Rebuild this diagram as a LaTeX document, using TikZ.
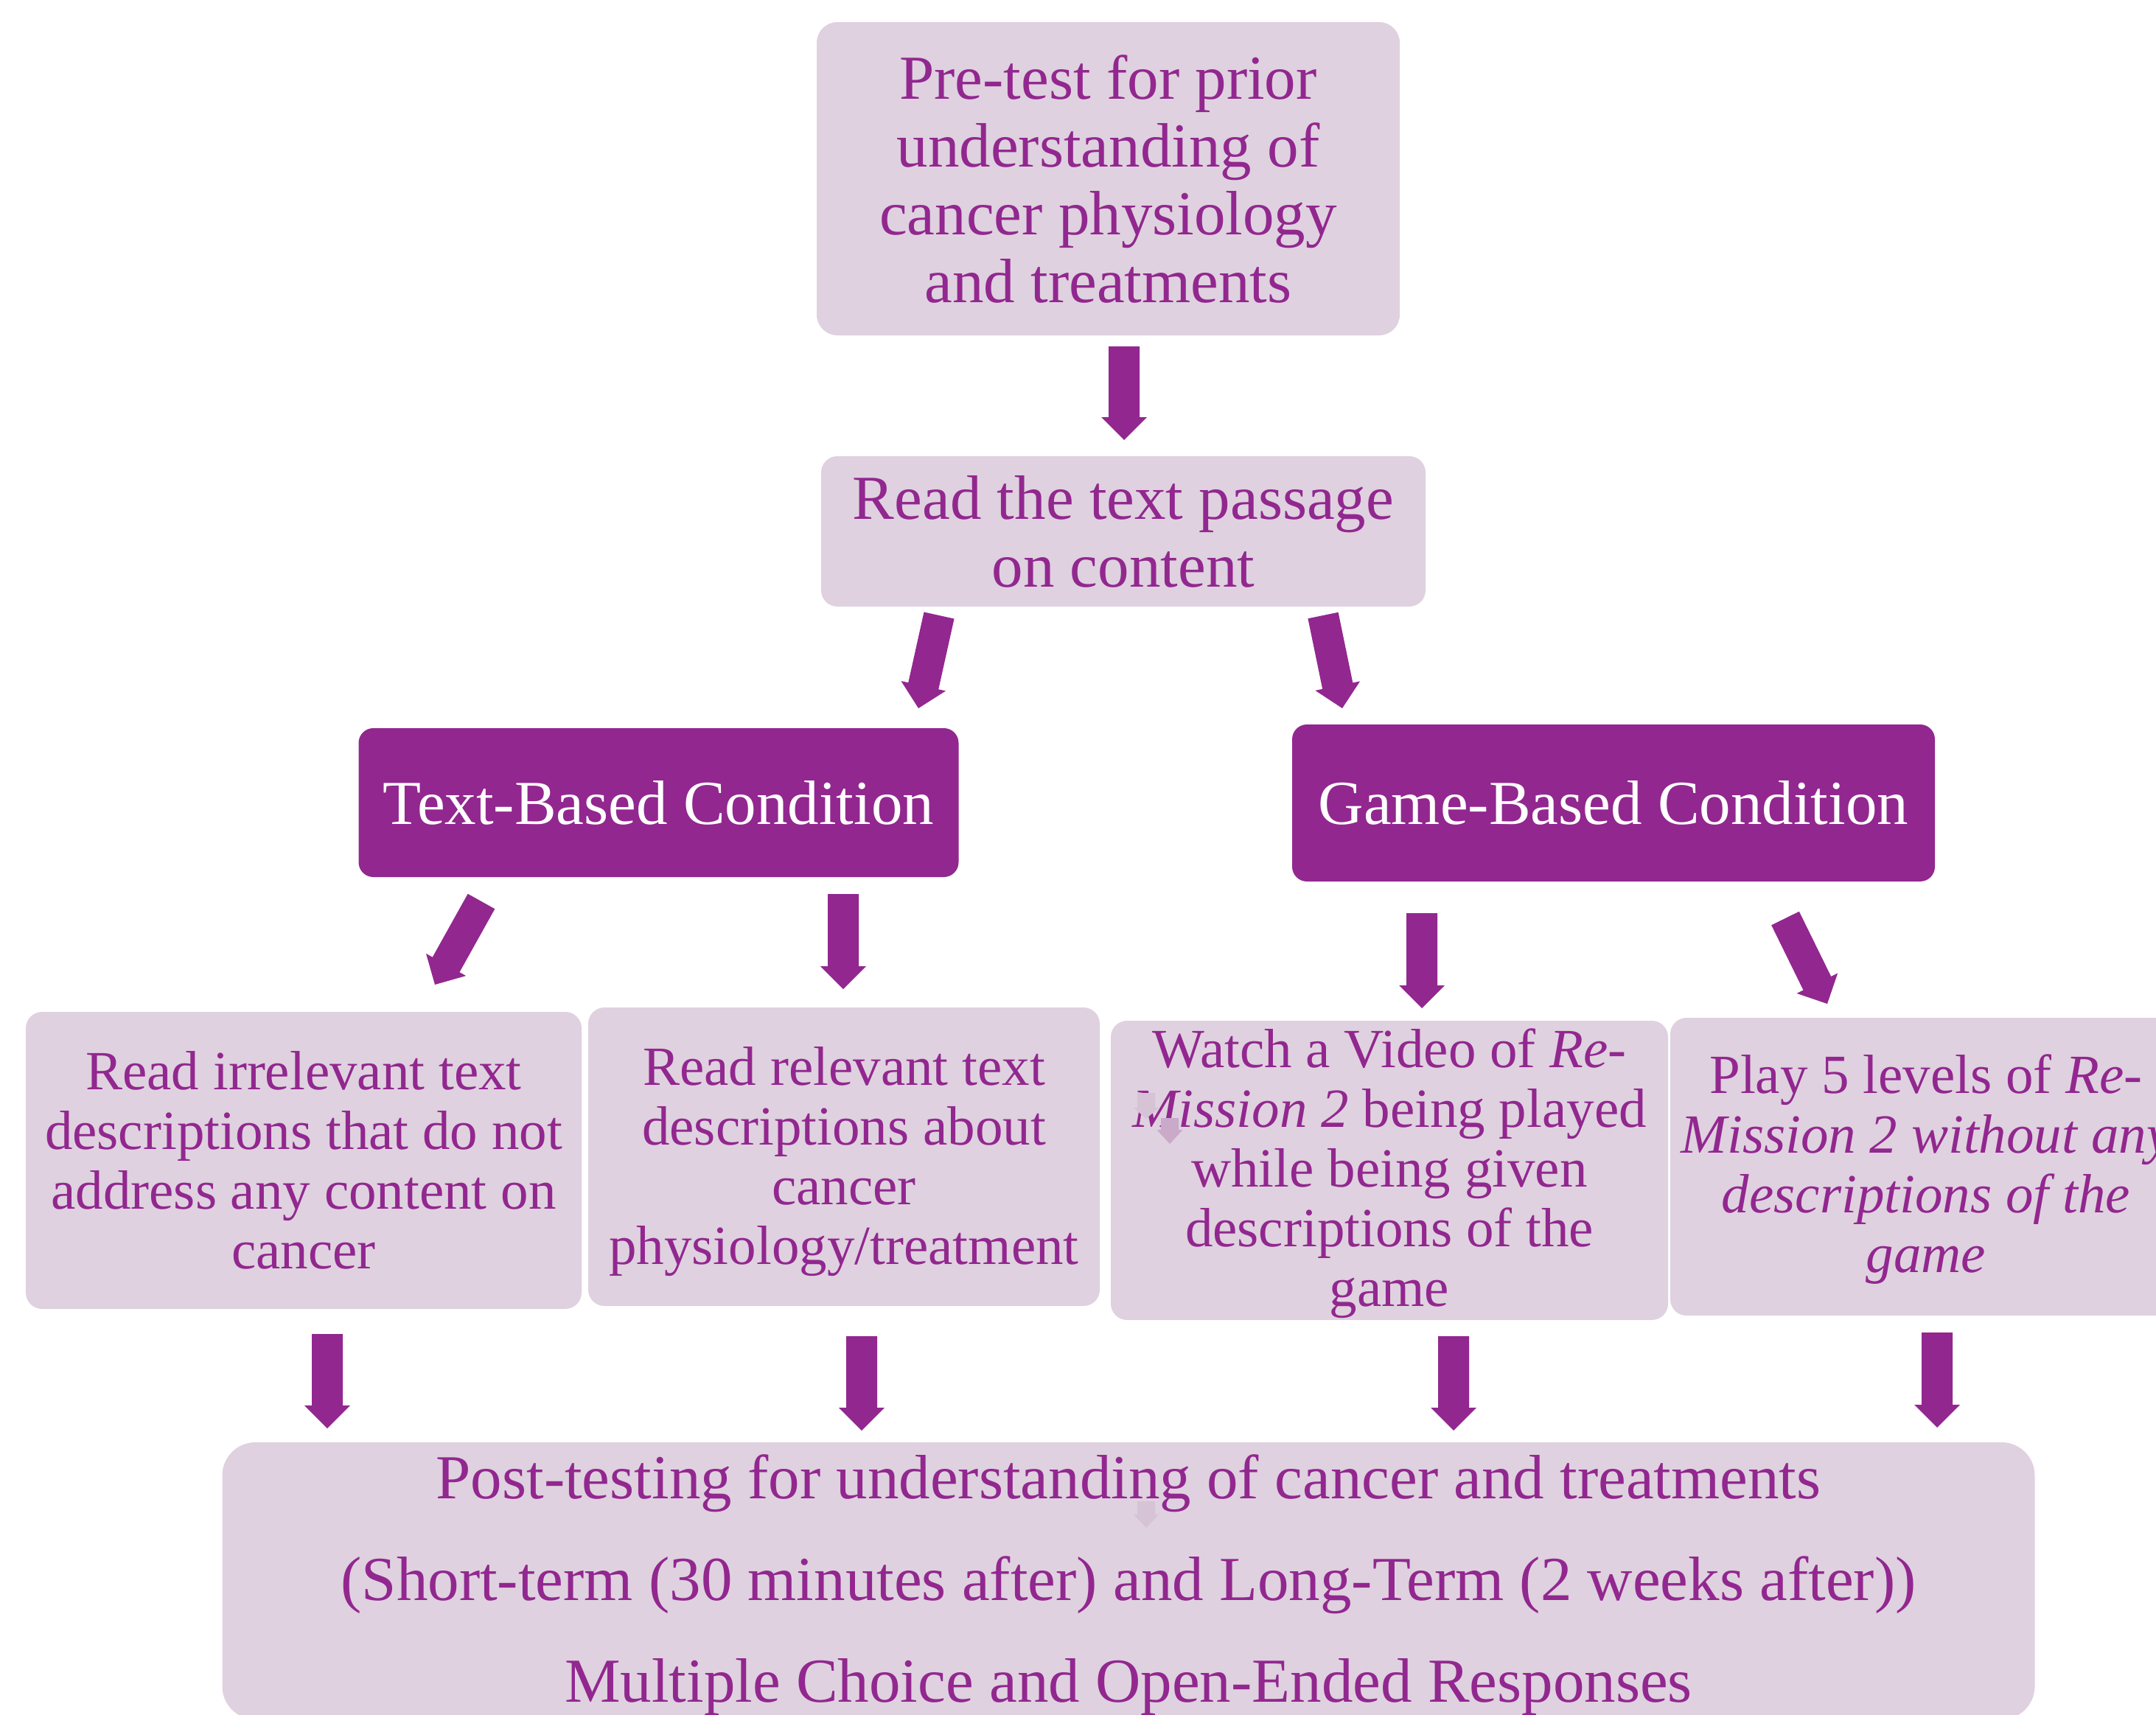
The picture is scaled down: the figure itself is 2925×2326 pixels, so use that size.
\documentclass[tikz,border=0pt]{standalone}
\usepackage{fontspec}
\setmainfont{Liberation Serif}
\usetikzlibrary{calc}
\definecolor{purp}{RGB}{146,39,143}
\definecolor{boxfill}{RGB}{223,209,223}
\definecolor{faintA}{RGB}{214,195,214}
\definecolor{faintB}{RGB}{201,170,201}
\newcommand\blockarrow[6][arrowfill]{%
  \fill[#1] ($(#2)!#4!90:(#3)$) -- ($(#3)!#6!(#2)!#4!-90:(#2)$) -- ($(#3)!#6!(#2)!#5!-90:(#2)$) -- (#3) -- ($(#3)!#6!(#2)!#5!90:(#2)$) -- ($(#3)!#6!(#2)!#4!90:(#2)$) -- ($(#2)!#4!-90:(#3)$) -- cycle;}
\tikzset{
  arrowfill/.style={fill=purp},
  bigtext/.style={font=\fontsize{85}{92}\selectfont},
  smalltext/.style={font=\fontsize{75}{81}\selectfont},
  lbox/.style={fill=boxfill, text=purp, align=center, inner sep=0pt, rounded corners=22pt},
  dbox/.style={fill=purp, text=white, align=center, inner sep=0pt, rounded corners=20pt, bigtext},
  btext/.style={text=purp, align=center, inner sep=0pt},
}
\begin{document}
\begin{tikzpicture}[x=1pt,y=-1pt]
\useasboundingbox (0,0) rectangle (2925,2326);
\clip (0,0) rectangle (2925,2326);

\node[lbox, bigtext, rounded corners=28pt, minimum width=791pt, minimum height=425pt] (pre) at (1503.5,242.5)
  {Pre-test for prior\\understanding of\\cancer physiology\\and treatments};
\node[lbox, bigtext, minimum width=820pt, minimum height=204pt] (read) at (1524,721)
  {Read the text passage\\on content};
\node[dbox, minimum width=814pt, minimum height=202pt] (tbc) at (893.5,1089) {Text-Based Condition};
\node[dbox, minimum width=872pt, minimum height=213pt] (gbc) at (2189,1089.5) {Game-Based Condition};

\node[lbox, minimum width=754pt, minimum height=403pt] (l1) at (412,1574.5) {};
\node[btext, smalltext] (l1t) at (l1.center)
  {Read irrelevant text\\descriptions that do not\\address any content on\\cancer};
\node[lbox, minimum width=694pt, minimum height=405pt] (l2) at (1145,1569.5) {};
\node[btext, smalltext, yshift=-7pt] (l2t) at (l2.center)
  {Read relevant text\\descriptions about\\cancer\\physiology/treatment};
\node[lbox, minimum width=756pt, minimum height=406pt] (l3) at (1885,1588) {};
\node[btext, smalltext, yshift=-4pt] (l3t) at (l3.center)
  {Watch a Video of \textit{Re-}\\\textit{Mission 2} being played\\while being given\\descriptions of the\\game};
\node[lbox, minimum width=694pt, minimum height=404pt] (l4) at (2613,1583) {};
\node[btext, smalltext, yshift=-4pt] (l4t) at (l4.center)
  {Play 5 levels of \textit{Re-}\\\textit{Mission 2 without any}\\\textit{descriptions of the}\\\textit{game}};

\node[lbox, rounded corners=45pt, minimum width=2459pt, minimum height=376pt] (post) at (1531,2145) {};
\node[btext, font=\fontsize{85}{138}\selectfont, yshift=-6pt] (postt) at (post.center)
  {Post-testing for understanding of cancer and treatments\\(Short-term (30 minutes after) and Long-Term (2 weeks after))\\Multiple Choice and Open-Ended Responses};

% arrow end points
\coordinate (a1s) at (1525,470);  \coordinate (a1e) at (1525,597);
\coordinate (a2s) at (1274,835);  \coordinate (a2e) at (1246,961);
\coordinate (a3s) at (1795,835);  \coordinate (a3e) at (1821,961);
\coordinate (a4s) at (653,1223);  \coordinate (a4e) at (590,1336);
\coordinate (a5s) at (1144,1213); \coordinate (a5e) at (1144,1342);
\coordinate (a6s) at (1929,1239); \coordinate (a6e) at (1929,1368);
\coordinate (a7s) at (2422,1246); \coordinate (a7e) at (2479,1362);
\coordinate (b1s) at (444,1810);  \coordinate (b1e) at (444,1938);
\coordinate (b2s) at (1169,1813); \coordinate (b2e) at (1169,1941);
\coordinate (b3s) at (1972,1813); \coordinate (b3e) at (1972,1941);
\coordinate (b4s) at (2628,1808); \coordinate (b4e) at (2628,1937);

\blockarrow{a1s}{a1e}{21pt}{31pt}{31pt}
\blockarrow{a2s}{a2e}{21pt}{31pt}{31pt}
\blockarrow{a3s}{a3e}{21pt}{31pt}{31pt}
\blockarrow{a4s}{a4e}{21pt}{31pt}{31pt}
\blockarrow{a5s}{a5e}{21pt}{31pt}{31pt}
\blockarrow{a6s}{a6e}{21pt}{31pt}{31pt}
\blockarrow{a7s}{a7e}{21pt}{31pt}{31pt}
\blockarrow{b1s}{b1e}{21pt}{31pt}{31pt}
\blockarrow{b2s}{b2e}{21pt}{31pt}{31pt}
\blockarrow{b3s}{b3e}{21pt}{31pt}{31pt}
\blockarrow{b4s}{b4e}{21pt}{31pt}{31pt}

% faint arrow marks
\coordinate (f1s) at (1555,1483); \coordinate (f1e) at (1555,1518);
\coordinate (f2s) at (1587,1517); \coordinate (f2e) at (1587,1552);
\coordinate (f3s) at (1555,2037); \coordinate (f3e) at (1555,2073);
\blockarrow[fill=faintA]{f1s}{f1e}{12pt}{17pt}{15pt}
\blockarrow[fill=faintB]{f2s}{f2e}{12pt}{17.5pt}{19pt}
\blockarrow[fill=faintA]{f3s}{f3e}{12pt}{17pt}{18pt}
\end{tikzpicture}
\end{document}
